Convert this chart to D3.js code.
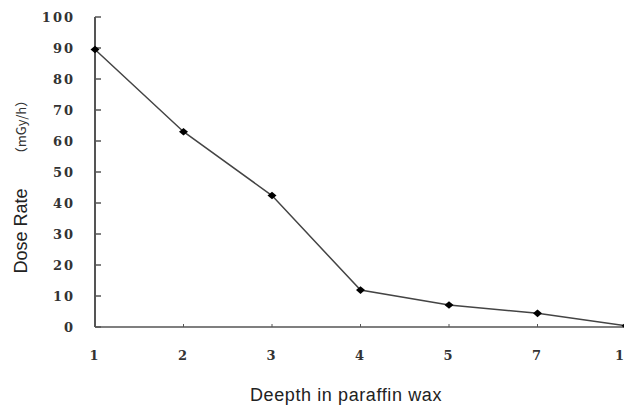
<!DOCTYPE html>
<html>
<head>
<meta charset="utf-8">
<script src="https://d3js.org/d3.v7.min.js"></script>
<style>
  body { margin: 0; background: #fff; }
  svg { display: block; }
  .tick-lbl { font: bold 13px "DejaVu Serif", serif; fill: #333; letter-spacing: 2px; }
  .title { font: 18px "Liberation Sans", Arial, sans-serif; fill: #222; }
</style>
</head>
<body>
<svg id="chart" width="624" height="405"></svg>
<script>
// data
var depths = ["1", "2", "3", "4", "5", "7", "10"];
var doseRate = [89.5, 63, 42.4, 11.9, 7.1, 4.4, 0.4];
var yTicks = [0, 10, 20, 30, 40, 50, 60, 70, 80, 90, 100];

var svg = d3.select("#chart");

var x = d3.scalePoint().domain(depths).range([95, 626]);
var y = d3.scaleLinear().domain([0, 100]).range([327, 17]);

// y axis (ticks point inward)
var yAxis = svg.append("g");
yAxis.append("line")
  .attr("x1", 95).attr("x2", 95)
  .attr("y1", y(100)).attr("y2", y(0))
  .attr("stroke", "#555").attr("stroke-width", 2);
yAxis.selectAll("line.tk").data(yTicks).enter().append("line")
  .attr("class", "tk")
  .attr("x1", 95).attr("x2", 101)
  .attr("y1", function(d) { return y(d); })
  .attr("y2", function(d) { return y(d); })
  .attr("stroke", "#555").attr("stroke-width", 1.5);
yAxis.selectAll("text").data(yTicks).enter().append("text")
  .attr("class", "tick-lbl")
  .attr("x", 75)
  .attr("y", function(d) { return y(d); })
  .attr("dy", "0.35em")
  .attr("text-anchor", "end")
  .text(function(d) { return d; });

// x axis
var xAxis = svg.append("g");
xAxis.append("line")
  .attr("x1", 95).attr("x2", 624)
  .attr("y1", y(0)).attr("y2", y(0))
  .attr("stroke", "#555").attr("stroke-width", 1.5);
xAxis.selectAll("line.tk").data(depths.slice(1)).enter().append("line")
  .attr("class", "tk")
  .attr("x1", function(d) { return x(d); })
  .attr("x2", function(d) { return x(d); })
  .attr("y1", y(0)).attr("y2", y(0) - 3)
  .attr("stroke", "#555").attr("stroke-width", 1);
xAxis.selectAll("text").data(depths).enter().append("text")
  .attr("class", "tick-lbl")
  .attr("x", function(d) { return x(d); })
  .attr("y", 360)
  .attr("text-anchor", "middle")
  .text(function(d) { return d; });

// line + markers
var line = d3.line()
  .x(function(d, i) { return x(depths[i]); })
  .y(function(d) { return y(d); });

svg.append("path")
  .datum(doseRate)
  .attr("d", line)
  .attr("fill", "none")
  .attr("stroke", "#444")
  .attr("stroke-width", 1.5);

// squat diamond markers
svg.selectAll("path.mk").data(doseRate).enter().append("path")
  .attr("class", "mk")
  .attr("d", "M-4.5,0L0,-3.8L4.5,0L0,3.8Z")
  .attr("transform", function(d, i) { return "translate(" + x(depths[i]) + "," + y(d) + ")"; })
  .attr("fill", "#000");

// titles
svg.append("text")
  .attr("class", "title")
  .attr("x", 346).attr("y", 401)
  .attr("text-anchor", "middle")
  .style("letter-spacing", "0.6px")
  .text("Deepth in paraffin wax");

svg.append("text")
  .attr("class", "title")
  .attr("transform", "translate(27,231) rotate(-90)")
  .attr("text-anchor", "middle")
  .text("Dose Rate");

svg.append("text")
  .attr("transform", "translate(26,127) rotate(-90)")
  .attr("text-anchor", "middle")
  .style("font", "13px 'Noto Sans CJK SC', sans-serif")
  .style("fill", "#333")
  .text("（mGy/h）");
</script>
</body>
</html>
